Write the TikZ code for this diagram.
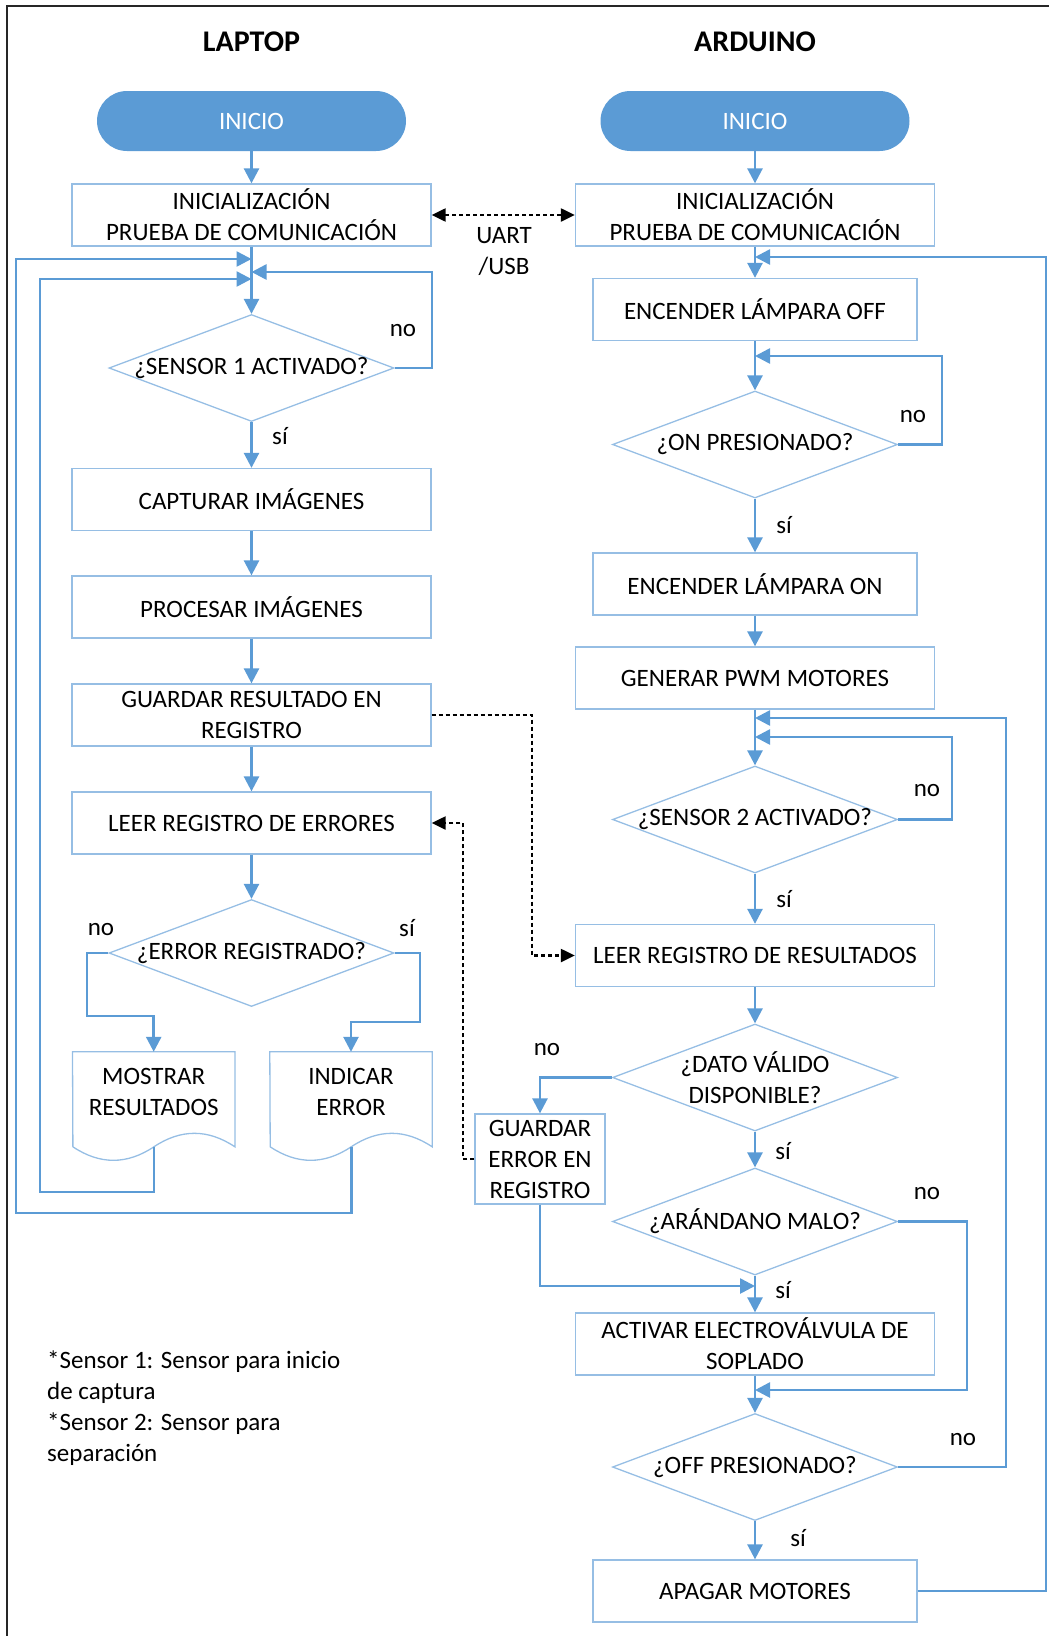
\documentclass[tikz,border=0pt]{standalone}
\usepackage{fontspec}
\setmainfont{Carlito}
\usetikzlibrary{shapes.geometric,arrows.meta}
\definecolor{azul}{RGB}{91,155,213}
\definecolor{borde}{RGB}{150,190,228}

\tikzset{
  inicio/.style={draw=none, fill=azul, text=white, rounded corners=30pt,
    minimum width=309pt, minimum height=60pt},
  caja/.style={draw=borde, line width=1.3pt, minimum width=359pt,
    minimum height=62pt, align=center, inner sep=0pt},
  cajita/.style={caja, minimum width=324pt},
  decision/.style={diamond, draw=borde, line width=1.3pt, minimum width=285pt,
    minimum height=107pt, inner sep=0pt, label={[align=center]center:#1}},
  hoja/.style={minimum width=162pt, minimum height=80pt, align=center, inner sep=0pt},
  flecha/.style={draw=azul, line width=2.6pt, -{Triangle[length=15pt,width=15pt]}},
  enlace/.style={draw=black, line width=2.2pt, dash pattern=on 4pt off 3pt,
    -{Triangle[length=14pt,width=13pt]}},
}

\begin{document}
\begin{tikzpicture}[x=1pt, y=-1pt, font=\fontsize{25}{31}\selectfont]
  \useasboundingbox (0,0) rectangle (1049,1636);
  \draw[line width=1.6pt, black!85] (7,1636) -- (7,6) -- (1049,6);

  % titulos
  \node[font=\fontsize{30}{36}\selectfont\bfseries] (tlap) at (251.5,42) {LAPTOP};
  \node[font=\fontsize{30}{36}\selectfont\bfseries] (tard) at (755,42) {ARDUINO};

  % laptop
  \node[inicio] (ini1) at (251.5,121) {INICIO};
  \node[caja] (conf1) at (251.5,215) {INICIALIZACIÓN\\PRUEBA DE COMUNICACIÓN};
  \node[decision={¿SENSOR 1 ACTIVADO?}] (sen1) at (251.5,368) {};
  \node[caja] (capt) at (251.5,499.5) {CAPTURAR IMÁGENES};
  \node[caja] (proc) at (251.5,607) {PROCESAR IMÁGENES};
  \node[caja] (guar) at (251.5,715) {GUARDAR RESULTADO EN\\REGISTRO};
  \node[caja] (lerr) at (251.5,823) {LEER REGISTRO DE ERRORES};
  \node[decision={¿ERROR REGISTRADO?}] (err) at (251.5,953) {};
  \node[hoja] (most) at (153.7,1092) {MOSTRAR\\RESULTADOS};
  \node[hoja] (indi) at (351,1092) {INDICAR\\ERROR};
  \foreach \d in {most,indi}
    \draw[borde, line width=1.3pt] (\d.north west) -- (\d.north east) -- ++(0,95)
      .. controls +(-27,-18) and +(27,-18) .. ++(-81,0) coordinate (\d-pie)
      .. controls +(-27,18) and +(27,18) .. ++(-81,0) -- cycle;

  \coordinate (r1) at (251.5,259);
  \coordinate (r2) at (251.5,279);
  \coordinate (r3) at (251.5,272);
  \draw[flecha] (ini1) -- (conf1);
  \draw[flecha] (conf1) -- (sen1);
  \draw[flecha] (sen1) -- (capt);
  \draw[flecha] (capt) -- (proc);
  \draw[flecha] (proc) -- (guar);
  \draw[flecha] (guar) -- (lerr);
  \draw[flecha] (lerr) -- (err);
  \draw[flecha] (err.west) -| (87,1016) -| (most.north);
  \draw[flecha] (err.east) -| (420,1022) -| (indi.north);
  \draw[flecha] (indi-pie) |- (16,1213) |- (r1);
  \draw[flecha] (most-pie) |- (40,1192) |- (r2);
  \draw[flecha] (sen1.east) -| (432,272) -- (r3);

  % arduino
  \node[inicio] (ini2) at (755,121) {INICIO};
  \node[caja] (conf2) at (755,215) {INICIALIZACIÓN\\PRUEBA DE COMUNICACIÓN};
  \node[cajita] (loff) at (755,309.5) {ENCENDER LÁMPARA OFF};
  \node[decision={¿ON PRESIONADO?}] (pon) at (755,444.5) {};
  \node[cajita] (lon) at (755,584) {ENCENDER LÁMPARA ON};
  \node[caja] (pwm) at (755,678) {GENERAR PWM MOTORES};
  \node[decision={¿SENSOR 2 ACTIVADO?}] (sen2) at (755,819.5) {};
  \node[caja] (lres) at (755,955.5) {LEER REGISTRO DE RESULTADOS};
  \node[decision={¿DATO VÁLIDO\\DISPONIBLE?}] (dato) at (755,1077.5) {};
  \node[caja, minimum width=130pt, minimum height=90pt] (gerr) at (540,1159) {GUARDAR\\ERROR EN\\REGISTRO};
  \node[decision={¿ARÁNDANO MALO?}] (malo) at (755,1221.5) {};
  \node[caja] (sopl) at (755,1344) {ACTIVAR ELECTROVÁLVULA DE\\SOPLADO};
  \node[decision={¿OFF PRESIONADO?}] (poff) at (755,1467) {};
  \node[cajita] (apag) at (755,1591) {APAGAR MOTORES};

  \coordinate (a1) at (755,257);
  \coordinate (a2) at (755,356);
  \coordinate (a3) at (755,718);
  \coordinate (a4) at (755,737);
  \coordinate (a5) at (755,1286);
  \coordinate (a6) at (755,1390);
  \draw[flecha] (ini2) -- (conf2);
  \draw[flecha] (conf2) -- (loff);
  \draw[flecha] (loff) -- (pon);
  \draw[flecha] (pon) -- (lon);
  \draw[flecha] (lon) -- (pwm);
  \draw[flecha] (pwm) -- (sen2);
  \draw[flecha] (sen2) -- (lres);
  \draw[flecha] (lres) -- (dato);
  \draw[flecha] (dato) -- (malo);
  \draw[flecha] (malo) -- (sopl);
  \draw[flecha] (sopl) -- (poff);
  \draw[flecha] (poff) -- (apag);
  \draw[flecha] (apag.east) -| (1046,257) -- (a1);
  \draw[flecha] (pon.east) -| (942,356) -- (a2);
  \draw[flecha] (poff.east) -| (1006,718) -- (a3);
  \draw[flecha] (sen2.east) -| (952,737) -- (a4);
  \draw[flecha] (dato.west) -| (gerr.north);
  \draw[flecha] (gerr.south) |- (a5);
  \draw[flecha] (malo.east) -| (967,1390) -- (a6);

  % no / si
  \foreach \txt/\px/\py [count=\i] in {no/403/331, sí/280/436, no/101/930, sí/407/928,
      no/913/417, sí/784/525, no/927/791, sí/784/899, no/547/1050, sí/783/1151,
      no/927/1194, sí/783/1290, no/963/1440, sí/798/1538}
    \node (lab\i) at (\px,\py) {\txt};

  % comunicacion
  \draw[enlace, {Triangle[length=14pt,width=13pt]}-{Triangle[length=14pt,width=13pt]}] (conf1) -- (conf2);
  \node[align=center] (uart) at (504,252) {UART\\/USB};
  \draw[enlace] (guar.east) -- (532,715) |- (lres.west);
  \draw[enlace] (gerr.west) -- (463,1159) |- (lerr.east);

  \node[anchor=base west, align=left, inner sep=0pt] (nota) at (47,1461.5)
    {*Sensor 1: Sensor para inicio\\de captura\\*Sensor 2: Sensor para\\separación};
\end{tikzpicture}
\end{document}
